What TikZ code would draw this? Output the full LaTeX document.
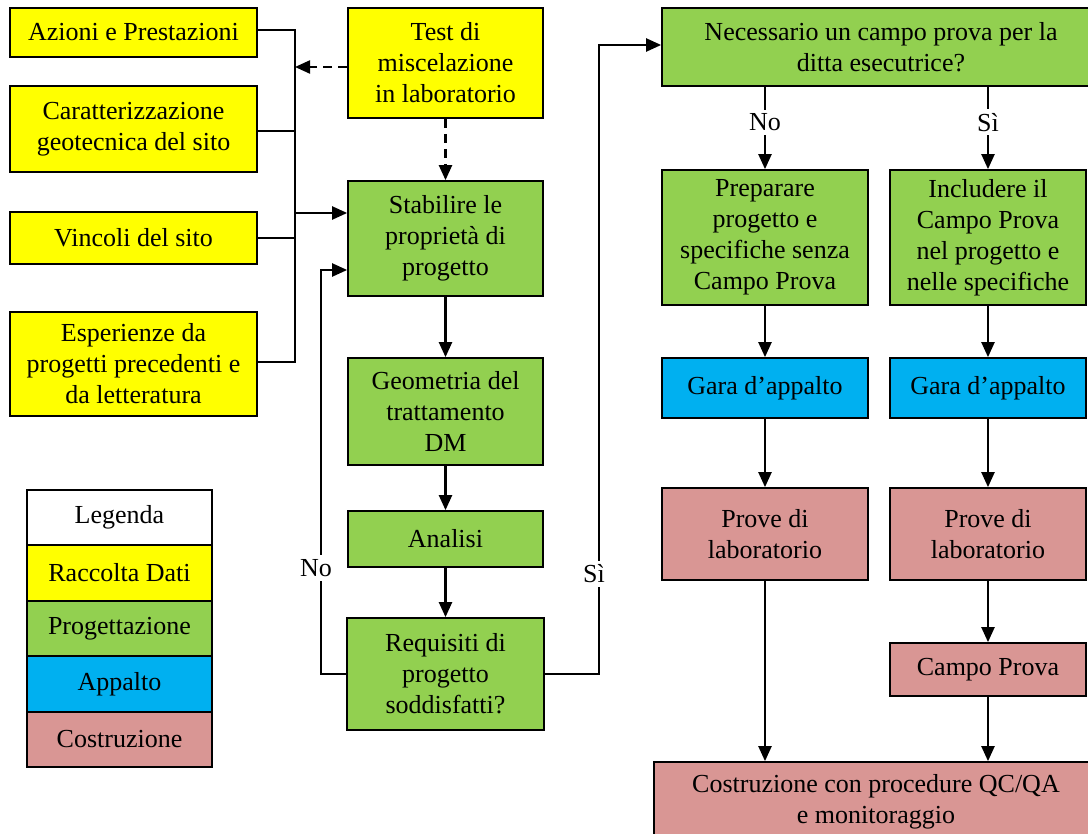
\documentclass[tikz,border=0pt]{standalone}
\usepackage{fontspec}
\setmainfont{Liberation Serif}
\usetikzlibrary{arrows.meta,calc}
\definecolor{cyel}{HTML}{FFFF00}
\definecolor{cgrn}{HTML}{92D050}
\definecolor{cblu}{HTML}{00B0F0}
\definecolor{cpnk}{HTML}{D99694}
\begin{document}
\begin{tikzpicture}[x=1pt,y=-1pt,
  box/.style={draw=black, line width=1.7pt, align=center, inner sep=2pt,
    font=\fontsize{26}{31}\selectfont, text=black},
  sz/.style 2 args={minimum width=#1pt, minimum height=#2pt},
  yel/.style={box, fill=cyel},
  grn/.style={box, fill=cgrn},
  blu/.style={box, fill=cblu},
  pnk/.style={box, fill=cpnk},
  wht/.style={box, fill=white},
  ln/.style={line width=2.2pt, draw=black},
  arr/.style={ln, -{Triangle[length=15pt,width=13pt]}},
  dsh/.style={dash pattern=on 9pt off 6pt},
  lbl/.style={fill=white, font=\fontsize{26}{31}\selectfont, inner sep=4pt, text=black}]
\clip (0,0) rectangle (1088,834);
\useasboundingbox (0,0) rectangle (1088,834);

% left data column
\node[yel, sz={247}{49}] (az) at (133.5,32.5) {Azioni e Prestazioni};
\node[yel, sz={247}{86}] (car) at (133.5,129) {Caratterizzazione\\geotecnica del sito};
\node[yel, sz={247}{52}] (vin) at (133.5,238) {Vincoli del sito};
\node[yel, sz={247}{104}] (esp) at (133.5,364) {Esperienze da\\progetti precedenti e\\da letteratura};

% middle column
\node[yel, sz={195}{110}] (test) at (445.5,63) {Test di\\miscelazione\\in laboratorio};
\node[grn, sz={195}{115}] (stab) at (445.5,238.5) {Stabilire le\\proprietà di\\progetto};
\node[grn, sz={195}{107}] (geo) at (445.5,411.5) {Geometria del\\trattamento\\DM};
\node[grn, sz={195}{56}] (ana) at (445.5,539) {Analisi};
\node[grn, sz={197}{112}] (req) at (445.5,674) {Requisiti di\\progetto\\soddisfatti?};

% right part
\node[grn, sz={438}{78}] (nec) at (881,47) {Necessario un campo prova per la\\ditta esecutrice?};
\node[grn, sz={206}{135}] (prep) at (765,237.5) {Preparare\\progetto e\\specifiche senza\\Campo Prova};
\node[grn, sz={196}{135}] (incl) at (988,237.5) {Includere il\\Campo Prova\\nel progetto e\\nelle specifiche};
\node[blu, sz={206}{60}] (garaL) at (765,388) {Gara d’appalto};
\node[blu, sz={196}{60}] (garaR) at (988,388) {Gara d’appalto};
\node[pnk, sz={206}{92}] (proveL) at (765,534) {Prove di\\laboratorio};
\node[pnk, sz={196}{92}] (proveR) at (988,534) {Prove di\\laboratorio};
\node[pnk, sz={196}{53}] (campo) at (988,669.5) {Campo Prova};
\node[pnk, sz={444}{80}] (costr) at (876,802) {Costruzione con procedure QC/QA\\e monitoraggio};

% legend
\node[wht, sz={185}{55.5}] (leg1) at (119.5,517.5) {Legenda};
\node[yel, sz={185}{55.5}] (leg2) at (119.5,573) {Raccolta Dati};
\node[grn, sz={185}{55.5}] (leg3) at (119.5,628.5) {Progettazione};
\node[blu, sz={185}{55.5}] (leg4) at (119.5,684) {Appalto};
\node[pnk, sz={185}{55.5}] (leg5) at (119.5,739.5) {Costruzione};

% bus of the data boxes
\coordinate (bt) at (295,30);
\coordinate (bb) at (295,362);
\draw[ln] (az.east |- bt) -- (bt) -- (bb) -- (esp.east |- bb);
\draw[ln] ($(car.east)+(0,2)$) -- ($(car.east -| bt)+(0,2)$);
\draw[ln] (vin.east) -- (vin.east -| bt);
\draw[arr] ($(stab.west -| bt)+(0,-25.5)$) -- ($(stab.west)+(0,-25.5)$);
\draw[arr, dsh] ($(test.west)+(0,4)$) -- ($(test.west -| bt)+(0,4)$);
\draw[arr, dsh] (test.south) -- (stab.north);

% middle chain
\draw[arr] (stab.south) -- (geo.north);
\draw[arr] (geo.south) -- (ana.north);
\draw[arr] (ana.south) -- (req.north);

% No loop
\coordinate (nx) at (321,674);
\draw[arr] (req.west) -- (nx) -- ($(nx |- stab.west)+(0,31.5)$) -- ($(stab.west)+(0,31.5)$);
\node[lbl] (noL) at (316,568) {No};

% Si branch
\coordinate (sx) at (599,674);
\draw[arr] (req.east |- sx) -- (sx) -- ($(sx |- nec.west)+(0,-2)$) -- ($(nec.west)+(0,-2)$);
\node[lbl] (siL) at (594,574) {Sì};

% right branches
\draw[arr] (nec.south -| prep.north) -- node[lbl, pos=0.43] (noR) {No} (prep.north);
\draw[arr] (nec.south -| incl.north) -- node[lbl, pos=0.43] (siR) {Sì} (incl.north);
\draw[arr] (prep.south) -- (garaL.north);
\draw[arr] (incl.south) -- (garaR.north);
\draw[arr] (garaL.south) -- (proveL.north);
\draw[arr] (garaR.south) -- (proveR.north);
\draw[arr] (proveL.south) -- (proveL.south |- costr.north);
\draw[arr] (proveR.south) -- (campo.north);
\draw[arr] (campo.south) -- (campo.south |- costr.north);
\end{tikzpicture}
\end{document}
